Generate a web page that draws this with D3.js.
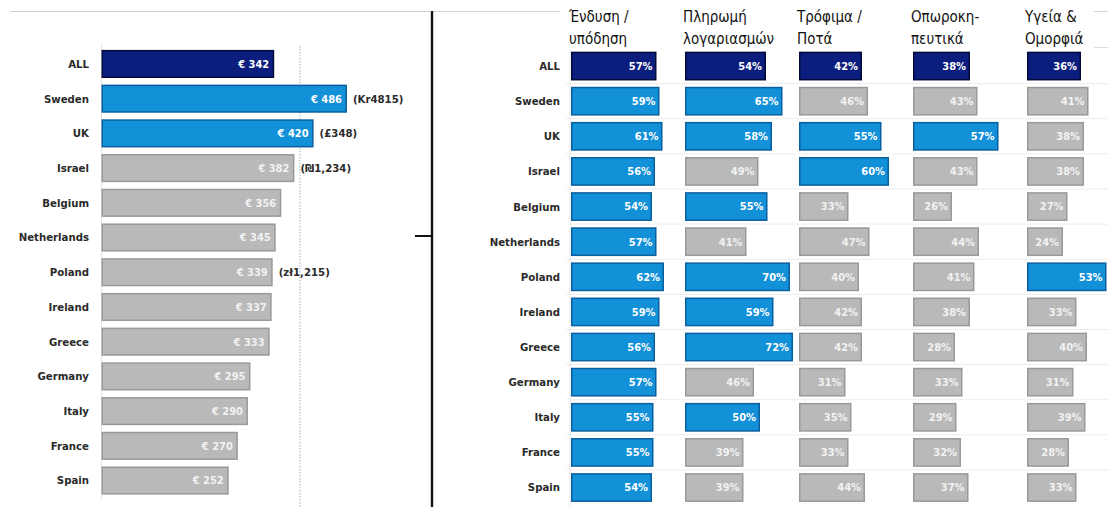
<!DOCTYPE html>
<html>
<head>
<meta charset="utf-8">
<script src="https://cdn.jsdelivr.net/npm/d3@7"></script>
<style>
  html, body { margin: 0; padding: 0; background: #fff; }
  svg { display: block; }
  .lbl { font-family: "DejaVu Sans Condensed", "DejaVu Sans", sans-serif; font-weight: bold; font-size: 11.3px; fill: #2a2a2a; }
  .val { font-family: "DejaVu Sans Condensed", "DejaVu Sans", sans-serif; font-weight: bold; font-size: 11px; }
  .hdr { font-family: "DejaVu Sans Condensed", "DejaVu Sans", sans-serif; font-size: 15px; fill: #111; }
</style>
</head>
<body>
<svg id="chart" width="1108" height="507"></svg>
<script>
// Average online spend per shopper (EUR), with local-currency figures
const countries = ["ALL", "Sweden", "UK", "Israel", "Belgium", "Netherlands", "Poland",
  "Ireland", "Greece", "Germany", "Italy", "France", "Spain"];
const spendEUR = [342, 486, 420, 382, 356, 345, 339, 337, 333, 295, 290, 270, 252];
const spendLocal = [null, "(Kr4815)", "(£348)", "(₪1,234)", null, null, "(zł1,215)",
  null, null, null, null, null, null];
const spendHighlight = ["Sweden", "UK"];
const spendRefValue = 393;

// Share of shoppers buying in each category (%)
const categories = ["Ένδυση / υπόδηση", "Πληρωμή λογαριασμών", "Τρόφιμα / Ποτά",
  "Οπωροκη- πευτικά", "Υγεία & Ομορφιά"];
const headerLines = [["Ένδυση /", "υπόδηση"], ["Πληρωμή", "λογαριασμών"], ["Τρόφιμα /", "Ποτά"],
  ["Οπωροκη-", "πευτικά"], ["Υγεία &", "Ομορφιά"]];
const clothing  = [57, 59, 61, 56, 54, 57, 62, 59, 56, 57, 55, 55, 54];
const bills     = [54, 65, 58, 49, 55, 41, 70, 59, 72, 46, 50, 39, 39];
const foodDrink = [42, 46, 55, 60, 33, 47, 40, 42, 42, 31, 35, 33, 44];
const produce   = [38, 43, 57, 43, 26, 44, 41, 38, 28, 33, 29, 32, 37];
const health    = [36, 41, 38, 38, 27, 24, 53, 33, 40, 31, 39, 28, 33];
const shareSeries = [clothing, bills, foodDrink, produce, health];
const shareThreshold = 50;

const COL = {
  navy: "#0b1e7e", navyEdge: "#020a3a",
  blue: "#1290d8", blueEdge: "#0a5f9e",
  grey: "#b9b9b9", greyEdge: "#999999"
};

const svg = d3.select("#chart");

// ---------- frame lines ----------
svg.append("line").attr("x1", 10).attr("x2", 430).attr("y1", 11.5).attr("y2", 11.5)
  .attr("stroke", "#cfcfcf").attr("stroke-width", 1.2);
svg.append("line").attr("x1", 433).attr("x2", 560).attr("y1", 11.5).attr("y2", 11.5)
  .attr("stroke", "#d4d4d4").attr("stroke-width", 1);
svg.append("line").attr("x1", 1094).attr("x2", 1108).attr("y1", 11.5).attr("y2", 11.5)
  .attr("stroke", "#d4d4d4").attr("stroke-width", 1);
svg.append("line").attr("x1", 1094).attr("x2", 1108).attr("y1", 47.5).attr("y2", 47.5)
  .attr("stroke", "#dcdcdc").attr("stroke-width", 1);
svg.append("line").attr("x1", 432).attr("x2", 432).attr("y1", 11).attr("y2", 507)
  .attr("stroke", "#101418").attr("stroke-width", 2.4);
svg.append("line").attr("x1", 415).attr("x2", 432).attr("y1", 236).attr("y2", 236)
  .attr("stroke", "#101418").attr("stroke-width", 2);

// ---------- left panel: spend ----------
const xL = d3.scaleLinear().domain([0, 500]).range([101.5, 354]);
const yL = d3.scaleBand().domain(countries).range([46.6, 497.9])
  .paddingInner(0.19).paddingOuter(0.095);

const left = svg.append("g");
left.append("line").attr("x1", 101.5).attr("x2", 101.5).attr("y1", 44).attr("y2", 499)
  .attr("stroke", "#e2e2e2");
left.append("line").attr("x1", xL(spendRefValue)).attr("x2", xL(spendRefValue))
  .attr("y1", 46).attr("y2", 507)
  .attr("stroke", "#9fb2c6").attr("stroke-width", 1).attr("stroke-dasharray", "1.5,1.5");

const leftRows = countries.map((c, i) => ({ c, v: spendEUR[i], loc: spendLocal[i] }));
const fillL = d => d.c === "ALL" ? COL.navy : spendHighlight.includes(d.c) ? COL.blue : COL.grey;
const edgeL = d => d.c === "ALL" ? COL.navyEdge : spendHighlight.includes(d.c) ? COL.blueEdge : COL.greyEdge;

left.selectAll("rect.bar").data(leftRows).join("rect")
  .attr("class", "bar")
  .attr("x", xL(0) + 0.75)
  .attr("y", d => yL(d.c) + 0.75)
  .attr("width", d => xL(d.v) - xL(0) - 1.5)
  .attr("height", yL.bandwidth() - 1.5)
  .attr("fill", fillL).attr("stroke", edgeL).attr("stroke-width", 1.5);

left.selectAll("text.lbl").data(leftRows).join("text")
  .attr("class", "lbl")
  .attr("x", 89).attr("y", d => yL(d.c) + yL.bandwidth() / 2)
  .attr("dy", "0.35em").attr("text-anchor", "end")
  .text(d => d.c);

left.selectAll("text.val").data(leftRows).join("text")
  .attr("class", "val")
  .attr("x", d => xL(d.v) - 5).attr("y", d => yL(d.c) + yL.bandwidth() / 2)
  .attr("dy", "0.35em").attr("text-anchor", "end")
  .attr("fill", d => fillL(d) === COL.grey ? "#f2f2f2" : "#ffffff")
  .text(d => "€ " + d.v);

left.selectAll("text.loc").data(leftRows.filter(d => d.loc)).join("text")
  .attr("class", "lbl loc")
  .attr("x", d => xL(d.v) + 6).attr("y", d => yL(d.c) + yL.bandwidth() / 2)
  .attr("dy", "0.35em")
  .text(d => d.loc);

// ---------- right panel: categories ----------
const xCol = d3.scaleBand().domain(categories).range([571, 571 + 114 * categories.length]);
const wR = d3.scaleLinear().domain([0, 100]).range([0, 150]);
const yR = d3.scaleBand().domain(countries).range([48.5, 505.1])
  .paddingInner(0.18).paddingOuter(0.09);

const right = svg.append("g");

// faint row separators
right.selectAll("line.sep").data(countries.slice(1)).join("line")
  .attr("class", "sep")
  .attr("x1", 566).attr("x2", 1108)
  .attr("y1", d => yR(d) - yR.step() * yR.paddingInner() / 2)
  .attr("y2", d => yR(d) - yR.step() * yR.paddingInner() / 2)
  .attr("stroke", "#ececec").attr("stroke-width", 1);
right.append("line").attr("x1", 570).attr("x2", 570).attr("y1", 50).attr("y2", 507)
  .attr("stroke", "#e6e6e6");

right.selectAll("text.lbl").data(countries).join("text")
  .attr("class", "lbl")
  .attr("x", 560).attr("y", d => yR(d) + yR.bandwidth() / 2)
  .attr("dy", "0.35em").attr("text-anchor", "end")
  .text(d => d);

categories.forEach((cat, ci) => {
  const g = right.append("g");
  const x0 = xCol(cat);
  const hdr = g.append("text").attr("class", "hdr").attr("x", x0 - 2).attr("y", 22);
  headerLines[ci].forEach((ln, li) => {
    hdr.append("tspan").attr("x", x0 - 2).attr("dy", li === 0 ? 0 : 22).text(ln);
  });

  const rows = countries.map((c, i) => ({ c, v: shareSeries[ci][i] }));
  const fillR = d => d.c === "ALL" ? COL.navy : d.v >= shareThreshold ? COL.blue : COL.grey;
  const edgeR = d => d.c === "ALL" ? COL.navyEdge : d.v >= shareThreshold ? COL.blueEdge : COL.greyEdge;

  g.selectAll("rect").data(rows).join("rect")
    .attr("x", x0 + 0.75)
    .attr("y", d => yR(d.c) + 0.75)
    .attr("width", d => wR(d.v) - 1.5)
    .attr("height", yR.bandwidth() - 1.5)
    .attr("fill", fillR).attr("stroke", edgeR).attr("stroke-width", 1.5);

  g.selectAll("text.val").data(rows).join("text")
    .attr("class", "val")
    .attr("x", d => x0 + wR(d.v) - 4)
    .attr("y", d => yR(d.c) + yR.bandwidth() / 2)
    .attr("dy", "0.35em").attr("text-anchor", "end")
    .attr("font-size", "10.5px")
    .attr("fill", d => fillR(d) === COL.grey ? "#f2f2f2" : "#ffffff")
    .text(d => d.v + "%");
});
</script>
</body>
</html>
